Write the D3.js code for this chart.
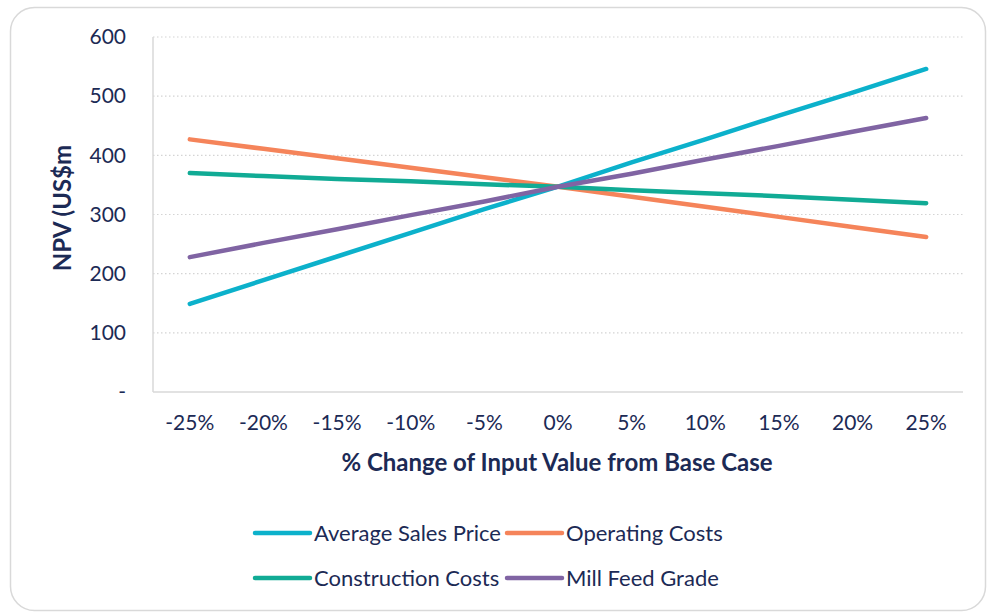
<!DOCTYPE html>
<html>
<head>
<meta charset="utf-8">
<script src="https://cdn.jsdelivr.net/npm/d3@7"></script>
<style>
  body { margin: 0; background: #fff; }
  svg text { font-family: Lato, "Open Sans", sans-serif; fill: #1c2a55; }
</style>
</head>
<body>
<div id="chart"></div>
<script>
// Categories and series
const categories = ["-25%", "-20%", "-15%", "-10%", "-5%", "0%", "5%", "10%", "15%", "20%", "25%"];
const averageSalesPrice = [149, 189, 229, 269, 309, 347, 388, 427, 467, 506, 546];
const operatingCosts = [427, 411, 395, 379, 363, 347, 330, 313, 296, 279, 262];
const constructionCosts = [370, 365, 360, 356, 351, 347, 341, 336, 331, 325, 319];
const millFeedGrade = [228, 252, 275, 299, 322, 347, 369, 393, 416, 440, 463];
const yTicks = [0, 100, 200, 300, 400, 500, 600];
const seriesNames = ["Average Sales Price", "Operating Costs", "Construction Costs", "Mill Feed Grade"];
const seriesColors = ["#0cb1cb", "#f5845a", "#11ab95", "#8064a3"];

const series = [averageSalesPrice, operatingCosts, constructionCosts, millFeedGrade]
    .map((vals, i) => ({ name: seriesNames[i], color: seriesColors[i], values: vals }));

const width = 987;
const height = 612;
const margin = { top: 37, right: 24, bottom: 220, left: 153 };

const svg = d3.select("#chart")
    .append("svg")
    .attr("width", width)
    .attr("height", height);

// outer rounded frame
svg.append("rect")
    .attr("x", 10.5).attr("y", 7.5)
    .attr("width", 975).attr("height", 603)
    .attr("rx", 24)
    .attr("fill", "#fff")
    .attr("stroke", "#d9d9d9")
    .attr("stroke-width", 1.5);

const x = d3.scaleBand()
    .domain(categories)
    .range([margin.left, width - margin.right])
    .padding(0);

const y = d3.scaleLinear()
    .domain([0, 600])
    .range([height - margin.bottom, margin.top]);

// gridlines
svg.append("g")
    .selectAll("line")
    .data(yTicks.filter(d => d > 0))
    .enter()
    .append("line")
    .attr("x1", margin.left).attr("x2", width - margin.right)
    .attr("y1", d => y(d)).attr("y2", d => y(d))
    .attr("stroke", "#d4d4d4")
    .attr("stroke-width", 1.2)
    .attr("stroke-dasharray", "1.5,2.5");

// axes lines
svg.append("line")
    .attr("x1", margin.left).attr("x2", margin.left)
    .attr("y1", y(600)).attr("y2", y(0))
    .attr("stroke", "#d9d9d9").attr("stroke-width", 1.5);
svg.append("line")
    .attr("x1", margin.left).attr("x2", width - margin.right)
    .attr("y1", y(0)).attr("y2", y(0))
    .attr("stroke", "#d9d9d9").attr("stroke-width", 1.5);

// Y axis labels
const yAxis = svg.append("g")
    .attr("transform", `translate(${margin.left},0)`)
    .call(d3.axisLeft(y).tickValues(yTicks).tickSize(0).tickPadding(27)
        .tickFormat(d => d === 0 ? "-" : d));
yAxis.select(".domain").remove();
yAxis.selectAll("text")
    .style("font-size", "21px")
    .attr("fill", "#1c2a55");

// X axis labels
const xAxis = svg.append("g")
    .attr("transform", `translate(0,${y(0)})`)
    .call(d3.axisBottom(x).tickSize(0).tickPadding(23));
xAxis.select(".domain").remove();
xAxis.selectAll("text")
    .style("font-size", "21px")
    .attr("fill", "#1c2a55");

// axis titles
svg.append("text")
    .attr("x", 557).attr("y", 471)
    .attr("text-anchor", "middle")
    .style("font-size", "24px")
    .style("font-weight", "bold")
    .text("% Change of Input Value from Base Case");

svg.append("text")
    .attr("transform", "translate(71,208) rotate(-90)")
    .attr("text-anchor", "middle")
    .style("font-size", "24px")
    .style("font-weight", "bold")
    .text("NPV (US$m");

// lines
const line = d3.line()
    .x((d, i) => x(categories[i]) + x.bandwidth() / 2)
    .y(d => y(d));

svg.selectAll(".series")
    .data(series)
    .enter()
    .append("path")
    .attr("class", "series")
    .attr("fill", "none")
    .attr("stroke", d => d.color)
    .attr("stroke-width", 4.5)
    .attr("stroke-linecap", "round")
    .attr("stroke-linejoin", "round")
    .attr("d", d => line(d.values));

// legend
const legendPos = [[255, 533], [507, 533], [255, 578], [507, 578]];
const legend = svg.selectAll(".legend")
    .data(series)
    .enter()
    .append("g")
    .attr("class", "legend")
    .attr("transform", (d, i) => `translate(${legendPos[i][0]},${legendPos[i][1]})`);

legend.append("line")
    .attr("x1", 0).attr("x2", 55)
    .attr("y1", 0).attr("y2", 0)
    .attr("stroke", d => d.color)
    .attr("stroke-width", 4.5)
    .attr("stroke-linecap", "round");

legend.append("text")
    .attr("x", 59).attr("y", 8)
    .style("font-size", "22px")
    .text(d => d.name);
</script>
</body>
</html>
